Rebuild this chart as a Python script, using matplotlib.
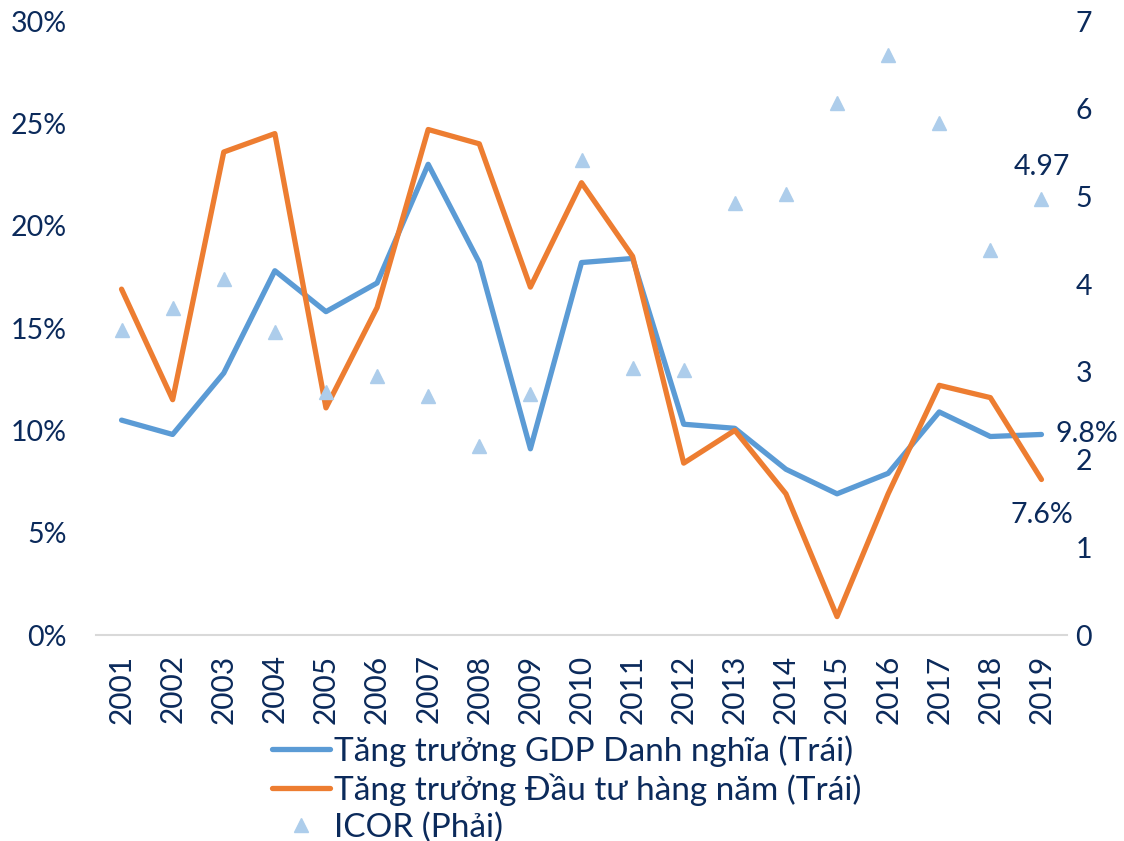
import matplotlib
matplotlib.use("Agg")
import matplotlib.pyplot as plt
import numpy as np

# data
years = [str(y) for y in range(2001, 2020)]
gdp_growth = [10.5, 9.8, 12.8, 17.8, 15.8, 17.2, 23.0, 18.2, 9.1, 18.2,
              18.4, 10.3, 10.1, 8.1, 6.9, 7.9, 10.9, 9.7, 9.8]
invest_growth = [16.9, 11.5, 23.6, 24.5, 11.1, 16.0, 24.7, 24.0, 17.0, 22.1,
                 18.5, 8.4, 10.0, 6.9, 0.9, 6.9, 12.2, 11.6, 7.6]
icor = [3.48, 3.73, 4.06, 3.46, 2.77, 2.95, 2.72, 2.15, 2.75, 5.41,
        3.04, 3.02, 4.92, 5.03, 6.06, 6.61, 5.84, 4.39, 4.97]

navy = '#0B2A5B'
blue = '#5B9BD5'
orange = '#ED7D31'
light = '#ADCDEB'

plt.rcParams['font.family'] = ['Lato', 'DejaVu Sans']

fig = plt.figure(figsize=(11.24, 8.41), dpi=100)
ax = fig.add_axes([0.0854, 0.2449, 0.8639, 0.7301])
ax2 = ax.twinx()

x = np.arange(len(years))
l1, = ax.plot(x, gdp_growth, color=blue, lw=3.8, solid_joinstyle='round', solid_capstyle='round')
l2, = ax.plot(x, invest_growth, color=orange, lw=3.8, solid_joinstyle='round', solid_capstyle='round')
s1, = ax2.plot(x, icor, ls='none', marker='^', ms=10, color=light, mec=light)

ax.set_xlim(-0.5, len(years) - 0.5)
ax.set_ylim(0, 30)
ax2.set_ylim(0, 7)
ax.set_yticks(np.arange(0, 31, 5))
ax.set_yticklabels([f'{v}%' for v in range(0, 31, 5)])
ax2.set_yticks(range(0, 8))
ax.set_xticks(x)
ax.set_xticklabels(years, rotation=90)

for a in (ax, ax2):
    for s in a.spines.values():
        s.set_visible(False)
    a.tick_params(length=0, labelsize=20.5, colors=navy)
ax.spines['bottom'].set_visible(True)
ax.spines['bottom'].set_color('#D9D9D9')
ax.spines['bottom'].set_linewidth(1.5)
ax.tick_params(axis='y', pad=21)
ax.tick_params(axis='x', pad=14, labelsize=21.5)
ax2.tick_params(axis='y', pad=6)

# end labels
ax2.annotate(f'{icor[-1]:.2f}', (x[-1], icor[-1]), xytext=(0, 14), textcoords='offset points',
             ha='center', va='bottom', fontsize=20.5, color=navy)
ax.annotate(f'{gdp_growth[-1]:.1f}%', (x[-1], gdp_growth[-1]), xytext=(10, 0), textcoords='offset points',
            ha='left', va='center', fontsize=20.5, color=navy)
ax.annotate(f'{invest_growth[-1]:.1f}%', (x[-1], invest_growth[-1]), xytext=(0, -16), textcoords='offset points',
            ha='center', va='top', fontsize=20.5, color=navy)

fig.legend([l1, l2, s1],
           ['Tăng trưởng GDP Danh nghĩa (Trái)', 'Tăng trưởng Đầu tư hàng năm (Trái)', 'ICOR (Phải)'],
           loc='upper left', bbox_to_anchor=(0.242, 0.126), frameon=False,
           prop={'family': ['Lato', 'DejaVu Sans'], 'size': 24}, labelcolor=navy,
           handlelength=1.75, handletextpad=0.1, labelspacing=0.2,
           borderpad=0, borderaxespad=0)

fig.savefig('out.png', dpi=100)
